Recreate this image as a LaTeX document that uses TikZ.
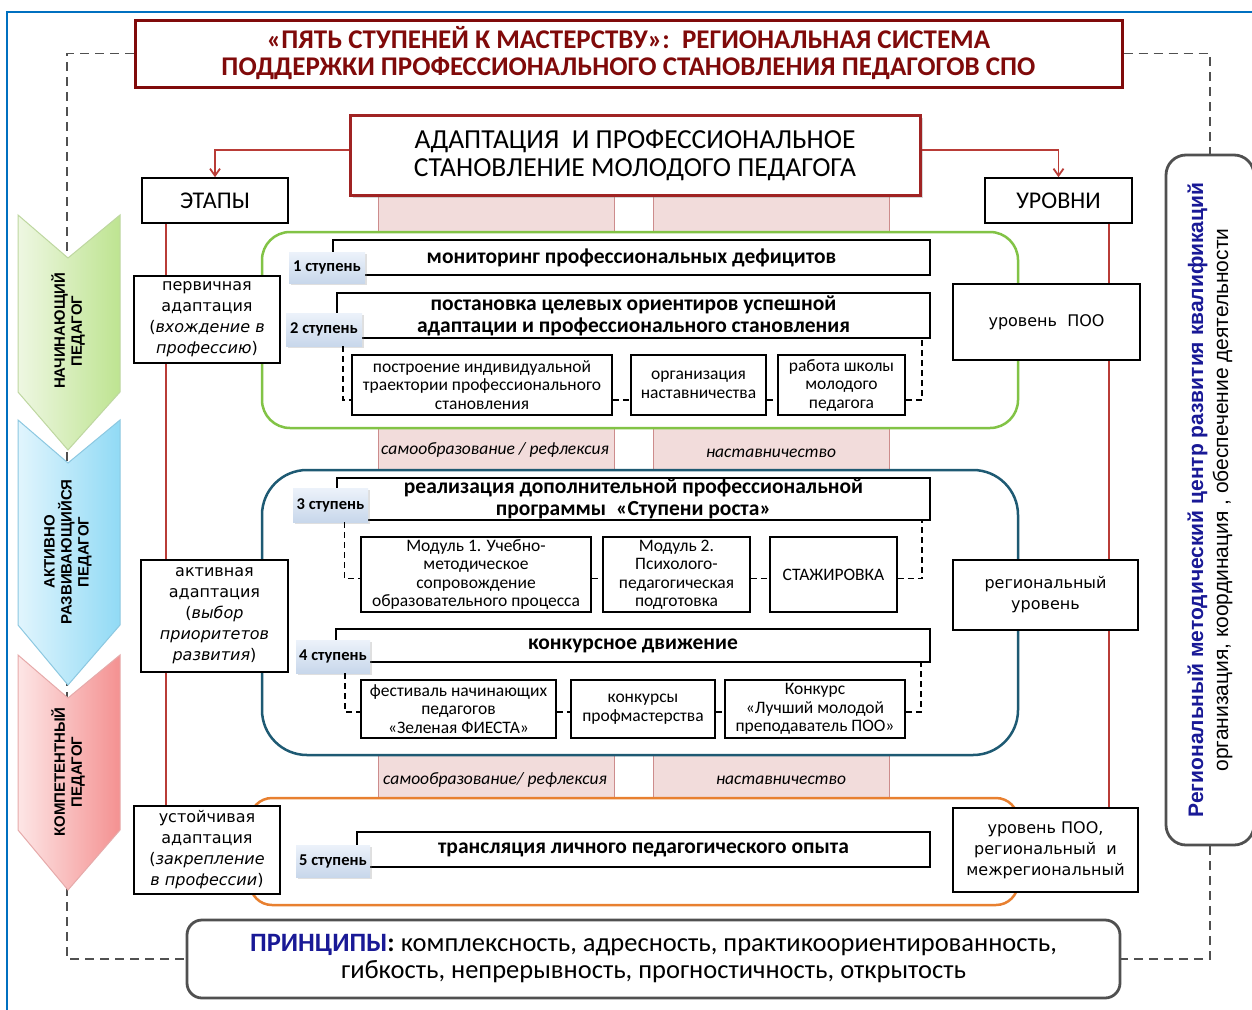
\documentclass[tikz,border=0pt]{standalone}
\usepackage{fontspec}
\setmainfont{Carlito}
\newfontfamily\arialf{Liberation Sans}
\newfontfamily\verd{DejaVu Sans}
\usetikzlibrary{arrows.meta,shadows,calc}
\definecolor{dred}{RGB}{128,10,10}
\definecolor{bred}{RGB}{160,35,35}
\definecolor{lred}{RGB}{185,60,55}
\definecolor{pinkf}{RGB}{242,220,219}
\definecolor{pinkd}{RGB}{205,140,140}
\definecolor{gline}{RGB}{130,195,70}
\definecolor{tline}{RGB}{30,90,115}
\definecolor{oline}{RGB}{232,128,48}
\definecolor{navy}{RGB}{25,25,150}
\definecolor{frameblue}{RGB}{0,112,192}
\definecolor{dgray}{RGB}{80,80,80}
\definecolor{lblue1}{RGB}{236,242,250}
\definecolor{lblue2}{RGB}{200,215,235}
\definecolor{g1}{RGB}{238,247,226}
\definecolor{g2}{RGB}{190,228,145}
\definecolor{g3}{RGB}{190,215,160}
\definecolor{c1}{RGB}{225,245,253}
\definecolor{c2}{RGB}{145,218,245}
\definecolor{c3}{RGB}{140,200,225}
\definecolor{r1}{RGB}{253,230,230}
\definecolor{r2}{RGB}{244,145,145}
\definecolor{r3}{RGB}{230,170,170}
\begin{document}
\begin{tikzpicture}[x=1pt,y=-1pt,
  box/.style={draw=black, line width=1.6pt, fill=white, inner sep=0pt, align=center},
  rowbox/.style={box, line width=1.8pt, font=\fontsize{21.5}{22}\selectfont\bfseries},
  subbox/.style={box, line width=1.5pt, font=\fontsize{17.5}{18.5}\selectfont},
  steplbl/.style={inner sep=0pt, top color=lblue1, bottom color=lblue2, font=\fontsize{16.5}{17}\selectfont\bfseries, drop shadow={opacity=0.25, shadow xshift=1.5pt, shadow yshift=-1.5pt}},
  sidebox/.style={box, line width=1.5pt, font=\verd\fontsize{16}{21}\selectfont},
  hdrbox/.style={box, line width=1.6pt, font=\fontsize{24}{26}\selectfont},
  band/.style={fill=pinkf, draw=pinkd, line width=0.8pt, inner sep=0pt},
  bandtxt/.style={font=\fontsize{17.5}{18}\selectfont\itshape, inner sep=0pt},
  cont/.style={draw=#1, line width=2.5pt, fill=white, inner sep=0pt},
  dashc/.style={draw=black, line width=1.5pt, dash pattern=on 6pt off 4pt},
  outerdash/.style={draw=dgray, line width=1.6pt, dash pattern=on 9pt off 6pt},
  redline/.style={draw=lred, line width=2pt},
  chevtxt/.style={rotate=90, align=center, inner sep=0pt, font=\arialf\bfseries\fontsize{15}{17}\selectfont},
]
\useasboundingbox (0,0) rectangle (1252,1009);
\fill[white] (0,0) rectangle (1252,1009);
% blue frame
\draw[frameblue, line width=2pt] (7,1012) -- (7,12) -- (1255,12);

% pink bands
\node[band, minimum width=236, minimum height=605] (bA) at (496,497.5) {};
\node[band, minimum width=236, minimum height=605] (bB) at (771,497.5) {};
\node[bandtxt] (tA1) at (495,450) {самообразование / рефлексия};
\node[bandtxt] (tB1) at (771,453) {наставничество};
\node[bandtxt] (tA2) at (495,780) {самообразование/ рефлексия};
\node[bandtxt] (tB2) at (781,780) {наставничество};

% header boxes
\node[box, draw=dred, line width=3pt, minimum width=987, minimum height=67,
  font=\fontsize{27}{27}\selectfont\bfseries, text=dred,
  drop shadow={opacity=0.3, shadow xshift=2pt, shadow yshift=-2pt}] (title) at (628.5,53.5)
  {«ПЯТЬ СТУПЕНЕЙ К МАСТЕРСТВУ»:~~РЕГИОНАЛЬНАЯ СИСТЕМА\\ПОДДЕРЖКИ ПРОФЕССИОНАЛЬНОГО СТАНОВЛЕНИЯ ПЕДАГОГОВ СПО};
\node[box, draw=bred, line width=3pt, minimum width=570, minimum height=80,
  font=\fontsize{27.5}{28}\selectfont,
  drop shadow={opacity=0.3, shadow xshift=3pt, shadow yshift=-3pt}] (adapt) at (635,155)
  {АДАПТАЦИЯ~~И ПРОФЕССИОНАЛЬНОЕ\\СТАНОВЛЕНИЕ МОЛОДОГО ПЕДАГОГА};
\node[hdrbox, minimum width=146, minimum height=45] (etapy) at (215,200.5) {ЭТАПЫ};
\node[hdrbox, minimum width=147, minimum height=45] (urovni) at (1058.5,200.5) {УРОВНИ};
\draw[redline, line width=1.8pt, -{Straight Barb[length=7pt,width=10pt]}] ([yshift=5pt]adapt.west) -| (etapy.north);
\draw[redline, line width=1.8pt, -{Straight Barb[length=7pt,width=10pt]}] ([yshift=5pt]adapt.east) -| (urovni.north);

% outer dashed frame
\node[draw=dgray, line width=2.8pt, rounded corners=15pt, fill=white, minimum width=933, minimum height=78, inner sep=0pt, align=center,
  font=\fontsize{26.5}{27}\selectfont] (princ) at (653.5,959)
  {\textcolor{navy}{\bfseries ПРИНЦИПЫ}\textbf{:} комплексность, адресность, практикоориентированность,\\гибкость, непрерывность, прогностичность, открытость};
\node[draw=dgray, line width=2.8pt, rounded corners=20pt, fill=white, minimum width=88, minimum height=690, inner sep=0pt] (rc) at (1210,500) {};
\node[rotate=90, align=center, inner sep=0pt, font=\arialf\fontsize{21}{25}\selectfont] (rct) at (1210,500)
  {\textcolor{navy}{\bfseries Региональный методический центр развития квалификаций}\\организация, координация , обеспечение деятельности};
\coordinate (dl) at (67,959);
\draw[outerdash] (title.west) -| (dl) -- (princ.west);
\draw[outerdash] (title.east) -| (rc.north);
\draw[outerdash] (rc.south) |- (princ.east);

% red vertical lines
\coordinate (lt) at ([xshift=25pt]etapy.south west);
\coordinate (rt) at ([xshift=-24pt]urovni.south east);
\draw[redline] (lt) -- (lt |- 0,806);
\draw[redline] (rt) -- (rt |- 0,808);

% containers
\node[cont=gline, rounded corners=28pt, minimum width=756, minimum height=196] (G) at (640,330) {};
\node[cont=tline, rounded corners=45pt, minimum width=756, minimum height=285] (T) at (640,612.5) {};
\node[cont=oline, rounded corners=22pt, minimum width=768, minimum height=107] (O) at (634,851.5) {};

% step 1
\node[rowbox, minimum width=597, minimum height=35] (row1) at (631.5,257.5) {мониторинг профессиональных дефицитов};
\node[steplbl, minimum width=76, minimum height=31] (s1) at (327,267.5) {1 ступень};
% step 2
\node[rowbox, minimum width=593, minimum height=45] (row2) at (633.5,315.5) {постановка целевых ориентиров успешной\\адаптации и профессионального становления};
\node[steplbl, minimum width=76, minimum height=33] (s2) at (324,329.5) {2 ступень};
\node[subbox, minimum width=260, minimum height=60] (b21) at (482,385) {построение индивидуальной\\траектории профессионального\\становления};
\node[subbox, minimum width=135, minimum height=60] (b22) at (698.5,385) {организация\\наставничества};
\node[subbox, minimum width=127, minimum height=60] (b23) at (841.5,385) {работа школы\\молодого\\педагога};
\draw[dashc] ([xshift=19pt]s2.south) |- ([yshift=-15pt]b21.west);
\draw[dashc] ([yshift=-15pt]b21.east) -- ([yshift=-15pt]b22.west);
\draw[dashc] ([yshift=-15pt]b22.east) -- ([yshift=-15pt]b23.west);
\draw[dashc] ([yshift=-15pt]b23.east) -| ([xshift=-9pt]row2.south east);
% step 3
\node[rowbox, minimum width=593, minimum height=42] (row3) at (633.5,499) {реализация дополнительной профессиональной\\программы~~«Ступени роста»};
\node[steplbl, minimum width=75, minimum height=34] (s3) at (330.5,505) {3 ступень};
\node[subbox, minimum width=230, minimum height=75] (b31) at (476,574.5) {Модуль 1. Учебно-\\методическое\\сопровождение\\образовательного процесса};
\node[subbox, minimum width=147, minimum height=75] (b32) at (676.5,574.5) {Модуль 2.\\Психолого-\\педагогическая\\подготовка};
\node[subbox, minimum width=127, minimum height=75] (b33) at (833.5,574.5) {СТАЖИРОВКА};
\draw[dashc] ([xshift=14pt]s3.south) |- ([yshift=-4pt]b31.west);
\draw[dashc] ([yshift=-4pt]b31.east) -- ([yshift=-4pt]b32.west);
\draw[dashc] ([yshift=-4pt]b32.east) -- ([yshift=-4pt]b33.west);
\draw[dashc] ([yshift=-4pt]b33.east) -| ([xshift=-9pt]row3.south east);
% step 4
\node[rowbox, minimum width=594, minimum height=33] (row4) at (633,645.5) {конкурсное движение};
\node[steplbl, minimum width=74, minimum height=33] (s4) at (333,656.5) {4 ступень};
\node[subbox, minimum width=195, minimum height=58] (b41) at (458.5,709) {фестиваль начинающих\\педагогов\\«Зеленая ФИЕСТА»};
\node[subbox, minimum width=144, minimum height=58] (b42) at (643,709) {конкурсы\\профмастерства};
\node[subbox, minimum width=180, minimum height=58] (b43) at (815,709) {Конкурс\\«Лучший молодой\\преподаватель ПОО»};
\draw[dashc] ([xshift=12pt]s4.south) |- ([yshift=-3pt]b41.west);
\draw[dashc] ([yshift=-3pt]b41.east) -- ([yshift=-3pt]b42.west);
\draw[dashc] ([yshift=-3pt]b42.east) -- ([yshift=-3pt]b43.west);
\draw[dashc] ([yshift=-3pt]b43.east) -| ([xshift=-10pt]row4.south east);
% step 5
\node[rowbox, minimum width=573, minimum height=35] (row5) at (643.5,849.5) {трансляция личного педагогического опыта};
\node[steplbl, minimum width=74, minimum height=32] (s5) at (333,861) {5 ступень};

% side boxes
\node[sidebox, minimum width=146, minimum height=87] (perv) at (207,319.5) {первичная\\адаптация\\(\textit{вхождение в}\\\textit{профессию})};
\node[sidebox, minimum width=147, minimum height=112] (akt) at (214.5,616) {активная\\адаптация\\(\textit{выбор}\\\textit{приоритетов}\\\textit{развития})};
\node[sidebox, minimum width=146, minimum height=88] (ust) at (207,850) {устойчивая\\адаптация\\(\textit{закрепление}\\\textit{в профессии})};
\node[sidebox, minimum width=187, minimum height=76] (lv1) at (1046.5,322) {уровень~~ПОО};
\node[sidebox, minimum width=185, minimum height=70] (lv2) at (1045.5,595) {региональный\\уровень};
\node[sidebox, minimum width=185, minimum height=84] (lv3) at (1045.5,850) {уровень ПОО,\\региональный~~и\\межрегиональный};

% chevrons
\path[left color=g1, right color=g2, draw=g3, line width=1pt] (18,215) -- (68,258) -- (120,215) -- (120,392) -- (68,450) -- (18,392) -- cycle;
\path[left color=c1, right color=c2, draw=c3, line width=1pt] (18,420) -- (68,463) -- (120,420) -- (120,625) -- (68,685) -- (18,625) -- cycle;
\path[left color=r1, right color=r2, draw=r3, line width=1pt] (18,655) -- (68,698) -- (120,655) -- (120,830) -- (68,890) -- (18,830) -- cycle;
\node[chevtxt] (ch1) at (68,331) {НАЧИНАЮЩИЙ\\ПЕДАГОГ};
\node[chevtxt] (ch2) at (68,552) {АКТИВНО\\РАЗВИВАЮЩИЙСЯ\\ПЕДАГОГ};
\node[chevtxt] (ch3) at (68,772) {КОМПЕТЕНТНЫЙ\\ПЕДАГОГ};
\end{tikzpicture}
\end{document}
